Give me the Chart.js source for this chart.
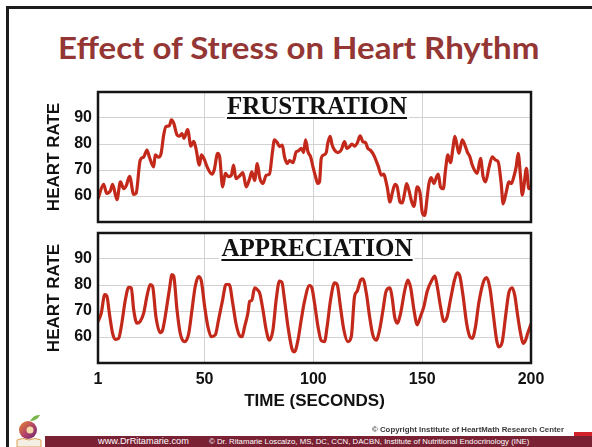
<!DOCTYPE html>
<html><head><meta charset="utf-8">
<script src="https://cdn.jsdelivr.net/npm/chart.js@4.4.1/dist/chart.umd.min.js"></script>
<style>
html,body{margin:0;padding:0;background:#fff;}
#page{position:relative;width:592px;height:447px;overflow:hidden;background:#fff;}
#frame{position:absolute;left:6px;top:6px;width:620px;height:470px;border-left:3px solid #1c1c1c;border-top:3px solid #1c1c1c;box-sizing:border-box;}
canvas{position:absolute;left:0;}
#c1{top:85px;} #c2{top:226px;}
.abs{position:absolute;white-space:nowrap;}
#title{color:#943634;font-family:Lato,"Open Sans",sans-serif;font-weight:700;transform-origin:0 0;line-height:1;}
.panel{font-family:"Liberation Serif","Times New Roman",serif;font-weight:700;font-size:25px;color:#111;background:#fff;line-height:24px;height:24px;text-decoration:underline;text-underline-offset:3px;text-decoration-thickness:1.5px;padding:0 2px;transform:translateX(-50%);}
#bar{left:45px;top:436px;width:547px;height:11px;background:#7a2134;}
.foot{color:#fff;font-family:"Liberation Sans",Arial,sans-serif;line-height:11px;top:436px;}
#copy{color:#3a3a3a;font-family:"Liberation Sans",Arial,sans-serif;font-weight:700;line-height:8px;top:426px;}
#redbit{left:574px;top:432px;width:18px;height:4px;background:#d2232a;}
</style></head>
<body><div id="page">
<div id="frame"></div>
<div id="title" class="abs">Effect of Stress on Heart Rhythm</div>
<canvas id="c1" width="592" height="145"></canvas>
<canvas id="c2" width="592" height="190"></canvas>
<div id="lab1" class="abs panel" style="left:317px;top:94px;">FRUSTRATION</div>
<div id="lab2" class="abs panel" style="left:317px;top:236px;">APPRECIATION</div>
<div id="copy" class="abs" style="left:372px;">© Copyright Institute of HeartMath Research Center</div>
<div id="bar" class="abs"></div>
<div id="redbit" class="abs"></div>
<div id="f1" class="abs foot" style="left:98px;">www.DrRitamarie.com</div>
<div id="f2" class="abs foot" style="left:209px;">© Dr. Ritamarie Loscalzo, MS, DC, CCN, DACBN, Institute of Nutritional Endocrinology (INE)</div>
<svg class="abs" style="left:14px;top:412px;" width="30" height="35" viewBox="0 0 30 35">
  <defs><linearGradient id="ap" x1="0" y1="0" x2="1" y2="1"><stop offset="0" stop-color="#e8892a"/><stop offset="0.55" stop-color="#b0406a"/><stop offset="1" stop-color="#6a2a6e"/></linearGradient></defs>
  <path d="M3 28 Q9 25 15 28 Q21 25 27 28 L27 35 L3 35 Z" fill="#f4efe4" stroke="#e0a050" stroke-width="1"/>
  <circle cx="14" cy="18" r="9" fill="url(#ap)"/>
  <circle cx="16" cy="18" r="3.5" fill="#f3d8a8"/>
  <path d="M16 9 Q20 2 26 3 Q23 9 16 9 Z" fill="#7ab648"/>
</svg>
</div>
<script>
// ---- data ----
const xTitle = "TIME (SECONDS)";
const yTitle = "HEART RATE";
const xTickValues = [1, 50, 100, 150, 200];
const yTickValues = [60, 70, 80, 90];
const frustrationSec = [1,3.6,5,6.7,7.7,9.7,11.3,12.8,14,15.5,17.4,18.5,20.4,22,23.5,24.6,26.6,27.3,28.9,30,31.2,32.2,33.8,34.7,35.8,37.3,38.4,39.6,40.5,42.2,43.7,45,46,47.6,48.5,49.9,51,53.4,54.4,56,56.9,58.3,59.5,61,62.3,63.3,64.4,66.4,67.6,69.1,70.7,71.7,73,74.2,75.3,76.8,78.3,79.8,81.1,82.1,83.4,84.4,85.7,86.7,88,89,90.6,92.1,93.2,94.4,95.5,96.4,97.5,98.7,99.8,101,102,102.8,103.6,104.8,105.9,106.6,107.7,108.6,109.7,111.2,112.8,114.3,115.4,116.6,117.7,118.9,120.1,121.5,122.7,124,125,126.1,127.3,128.4,129.9,131.2,132.2,133.9,135.2,136.2,137.5,138.5,139.8,140.8,141.9,142.8,143.9,145,146.2,147.7,149,150,151.1,152.3,153.1,154.1,155.4,156.6,157.4,158.4,159.7,160.7,161.8,163,164.1,165,166.1,166.9,168.4,169.6,170.7,171.9,173,174,175.3,176.8,178,179.1,180.6,182.2,183.7,184.9,186.3,187.2,188.8,189.8,191,192.1,193.2,194.1,195.2,196,196.7,197.9,199,200];
const frustrationBpm = [59,64.5,61,62,64.5,58.6,65.4,62.8,64,67.6,60.6,61,73.8,75,77.7,75,71.2,75.8,74.9,76.4,83.5,86.7,87,89.3,88,83.5,83,84,82.2,85.5,79.2,81,78.3,71.9,75.8,74,71.5,68.4,70,76.4,75.1,63.5,68.7,67.4,68,71.9,66.7,68,69,63.5,66.7,69.3,66,72.5,67.1,64.8,68,68.4,76.4,81.6,80.5,79,79.6,75.1,72.5,73.6,72.8,77,77.4,78.3,76.7,81.6,77,75.1,71.2,67.4,64.8,65.4,74.5,75.8,76.7,80.3,82.9,79.6,77.7,76.7,77.7,80.9,78.3,79,80,79.2,80.3,83.1,80.9,80.5,78.3,77.7,76.4,74.5,71.2,68,68.4,63.5,57.7,61,64.5,63.5,57.7,57.3,61,64.8,62.2,58.3,56,63.5,61.2,53.8,52.5,59.6,64.8,67.1,64.8,67.4,68.4,63.5,62.8,70,75.8,72.8,78.3,82.9,79,76.4,81.6,79.6,77,75.1,71.9,70,68.7,74.5,67.4,65.4,70.6,75.1,73.8,73.2,64.8,57,62.2,65.4,64.8,67.4,71.2,76.4,67.4,60.3,63.5,70.6,62.8,63.5];
const appreciationSec = [1,2.5,4.1,5.1,6.2,7.7,9,10.5,11.7,13.6,15.1,16.3,17.4,18.9,20.4,22,23.5,25,26.1,27.6,29.6,30.7,31.9,33.8,35,35.8,37.3,38.8,40.8,42.7,44.2,45.7,47.2,48.5,50,51.5,53.1,54.9,56.4,58.3,59.8,61.3,62.9,64.4,65.9,67.2,68.4,69.9,70.7,71.7,73,74.2,75.3,76.8,78.3,79.8,81.4,82.9,84.4,85.5,86.7,88.3,90.1,91.3,92.9,94.4,95.9,98.2,99.3,100.5,102.1,103.6,105.1,106.3,107.9,109.7,110.9,112.5,114,115.8,117.4,118.9,120.1,121.7,122.7,124.3,125.8,127.3,128.9,130.4,132,133.4,135.2,136.2,137.3,138.5,140.1,141.9,143.4,144.7,146.2,147.7,149.2,150.8,152.3,154.6,155.8,156.9,158.4,160,161.5,163,164.9,166.1,167.3,168.8,170.4,171.9,173,174.5,176,178,179.6,181.1,182.6,184.2,185.2,186.8,188.3,189.8,191.4,192.6,193.7,195.2,196.4,197.5,198.5,200];
const appreciationBpm = [66,69.2,76.3,75.7,69.2,61.4,59.1,59.5,64,74.4,79.1,78.9,70.5,65.3,66,69.2,75.7,80.2,79.5,67.9,61.7,62.7,67.9,78.2,84,83.4,70.5,61.4,58.2,61.4,70.5,79.5,83.2,81.5,71.8,64,60.1,60.8,66.6,74.4,80.2,80.2,73.1,65.3,60.8,60.1,64,69.2,73.7,74.1,78.9,78.2,76.9,70.5,62.7,58.8,62.7,74.4,81.5,81.1,74.4,64,55.6,54.3,58.8,66.6,73.7,79.8,78.9,73.1,64,58.6,58.2,64,74.4,80.8,80.2,71.1,62.7,58.2,60.1,75.6,77.6,81.9,82.4,77,68,60.8,58.8,62.7,70.5,77.6,78.9,75,67.9,65.3,69.2,77.6,81.9,78.9,70.5,64.7,67.9,71.8,77.6,82.1,83.4,79.5,71.8,66,67.9,74.4,82.1,84.7,83.4,75.7,65.3,60.1,59.5,64,73.1,80.8,82.8,78.9,69.2,58.8,56.2,58.2,67.9,77,78.9,75.7,69.2,61.4,57.5,58.8,61.4,65];

const frameBorder = {
  id: 'frameBorder',
  afterDatasetsDraw(chart) {
    const {ctx, chartArea: a} = chart;
    ctx.save();
    ctx.strokeStyle = '#151515';
    ctx.lineWidth = 2.5;
    ctx.strokeRect(a.left, a.top, a.right - a.left, a.bottom - a.top);
    ctx.restore();
  }
};

const axisFont = {family: '"Liberation Sans", Arial, sans-serif', size: 16, weight: 'bold'};
const titleFont = {family: '"Liberation Sans", Arial, sans-serif', size: 17, weight: 'bold'};

function makeChart(id, xs, ys, showX) {
  const pts = xs.map((x, i) => ({x: x, y: ys[i]}));
  return new Chart(document.getElementById(id), {
    type: 'line',
    data: {datasets: [{data: pts, borderColor: '#c3291b', borderWidth: 3.2, pointRadius: 0,
      cubicInterpolationMode: 'monotone', fill: false, borderJoinStyle: 'round', borderCapStyle: 'round'}]},
    options: {
      responsive: false, animation: false, devicePixelRatio: 1,
      layout: {padding: {left: 40, right: 61, top: 7, bottom: showX ? 0 : 8}},
      plugins: {legend: {display: false}, tooltip: {enabled: false}},
      scales: {
        x: {
          type: 'linear', min: 1, max: 200,
          afterBuildTicks: s => { s.ticks = xTickValues.map(v => ({value: v})); },
          afterFit: s => { s.height = showX ? 53 : 0; s.paddingLeft = 0; s.paddingRight = 0; },
          grid: {color: '#d2d2d2', lineWidth: 1, drawTicks: false},
          border: {display: false},
          ticks: {display: showX, padding: 7, font: axisFont, color: '#111', maxRotation: 0, autoSkip: false},
          title: {display: showX, text: xTitle, font: titleFont, color: '#111', padding: {top: 4, bottom: 4}}
        },
        y: {
          min: 50, max: 100,
          afterBuildTicks: s => { s.ticks = yTickValues.map(v => ({value: v})); },
          afterFit: s => { s.width = 58; s.paddingTop = 0; s.paddingBottom = 0; },
          grid: {color: '#d2d2d2', lineWidth: 1, drawTicks: false},
          border: {display: false},
          ticks: {padding: 6, font: axisFont, color: '#111'},
          title: {display: true, text: yTitle, font: titleFont, color: '#111', padding: {top: 4, bottom: 4}}
        }
      }
    },
    plugins: [frameBorder]
  });
}

function measure(text, font) {
  const c = document.createElement('canvas').getContext('2d');
  c.font = font;
  return c.measureText(text).width;
}
function fitSize(el, weight, family, targetW) {
  const w = measure(el.textContent, weight + ' 100px ' + family);
  el.style.fontSize = (100 * targetW / w).toFixed(2) + 'px';
}

function build() {
  const t = document.getElementById('title');
  const fs = 31;
  t.style.fontSize = fs + 'px';
  const tw = measure(t.textContent, '700 ' + fs + 'px Lato');
  t.style.left = '58px';
  t.style.top = '32px';
  t.style.transform = 'scaleX(' + (482 / tw).toFixed(4) + ')';
  fitSize(document.getElementById('f1'), '400', '"Liberation Sans"', 91);
  fitSize(document.getElementById('f2'), '400', '"Liberation Sans"', 321);
  fitSize(document.getElementById('copy'), '700', '"Liberation Sans"', 192);
  makeChart('c1', frustrationSec, frustrationBpm, false);
  makeChart('c2', appreciationSec, appreciationBpm, true);
}
if (document.fonts && document.fonts.load) {
  Promise.all([document.fonts.load('700 31px Lato'), document.fonts.load('700 16px "Liberation Sans"'), document.fonts.load('700 25px "Liberation Serif"')])
    .then(build, build);
} else { build(); }
</script>
</body></html>
